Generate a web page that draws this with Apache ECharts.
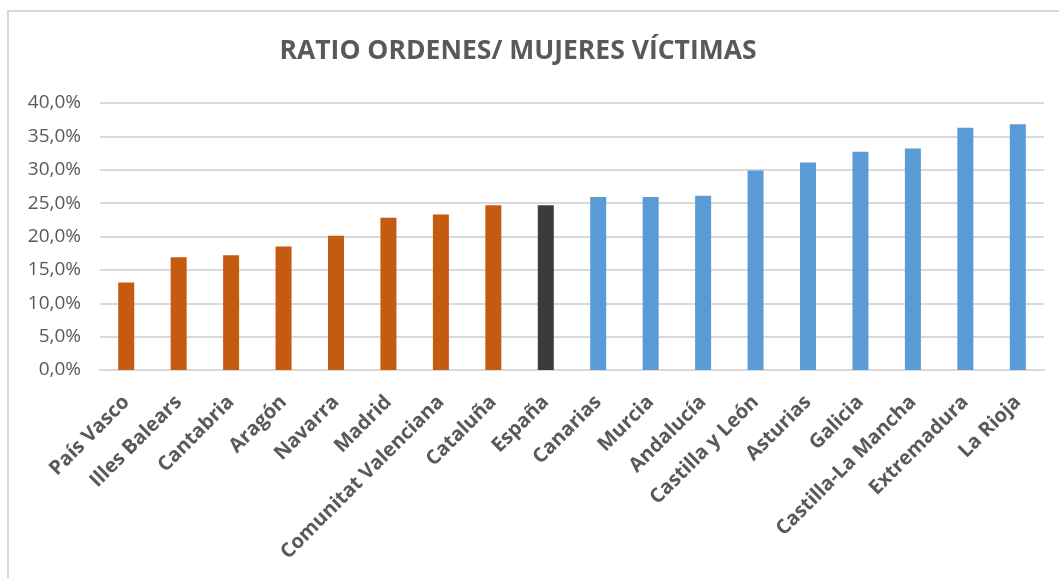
<!DOCTYPE html>
<html lang="es">
<head>
    <meta charset="UTF-8">
    <title>Ratio órdenes / mujeres víctimas</title>
    <script src="https://cdn.jsdelivr.net/npm/echarts@6/dist/echarts.min.js"></script>
    <style>
        html, body { margin: 0; padding: 0; background: #fff; }
        #main { width: 1059px; height: 578px; }
        /* marco gris del gráfico (solo arriba e izquierda) */
        #marco {
            position: absolute; left: 7px; top: 10px; width: 1052px; height: 568px;
            border-left: 2px solid #d9d9d9; border-top: 2px solid #d9d9d9;
            pointer-events: none; box-sizing: border-box;
        }
    </style>
</head>
<body>
<div id="main"></div>
<div id="marco"></div>
<script type="text/javascript">
    // categorías (comunidades) y valores en %
    var comunidades = ['País Vasco', 'Illes Balears', 'Cantabria', 'Aragón', 'Navarra', 'Madrid',
        'Comunitat Valenciana', 'Cataluña', 'España', 'Canarias', 'Murcia', 'Andalucía',
        'Castilla y León', 'Asturias', 'Galicia', 'Castilla-La Mancha', 'Extremadura', 'La Rioja'];
    var ratio = [13.1, 16.9, 17.2, 18.5, 20.1, 22.8, 23.3, 24.7, 24.7, 25.9, 25.9, 26.1,
        29.9, 31.1, 32.7, 33.2, 36.3, 36.8];
    // grupo: 0 = por debajo de España, 1 = España, 2 = por encima
    var grupo = [0, 0, 0, 0, 0, 0, 0, 0, 1, 2, 2, 2, 2, 2, 2, 2, 2, 2];
    var colores = ['#C55A11', '#3B3B3B', '#5B9BD5'];

    var datos = [];
    for (var i = 0; i < ratio.length; i++) {
        datos.push({value: ratio[i], itemStyle: {color: colores[grupo[i]]}});
    }

    var myChart = echarts.init(document.getElementById('main'));
    var option = {
        animation: false,
        title: {
            text: 'RATIO ORDENES/ MUJERES VÍCTIMAS',
            left: 513,
            top: 33,
            textAlign: 'center',
            textStyle: {fontFamily: 'Open Sans', fontWeight: 'bold', fontSize: 26.5, color: '#595959'}
        },
        grid: {left: 100, right: 15, top: 103, bottom: 208, containLabel: false},
        xAxis: {
            type: 'category',
            data: comunidades,
            axisTick: {show: false},
            axisLine: {lineStyle: {color: '#d9d9d9', width: 2}},
            axisLabel: {
                rotate: 45, interval: 0, margin: 29,
                fontFamily: 'Open Sans', fontWeight: 'bold', fontSize: 20, color: '#595959'
            }
        },
        yAxis: {
            type: 'value',
            min: 0, max: 40, interval: 5,
            axisLine: {show: false},
            axisTick: {show: false},
            splitLine: {lineStyle: {color: '#d9d9d9', width: 2}},
            axisLabel: {
                margin: 19,
                fontFamily: 'Open Sans', fontSize: 19, color: '#595959',
                formatter: function (v) { return v.toFixed(1).replace('.', ',') + '%'; }
            }
        },
        series: [{
            type: 'bar',
            data: datos,
            barWidth: 16
        }]
    };
    myChart.setOption(option);
</script>
</body>
</html>
